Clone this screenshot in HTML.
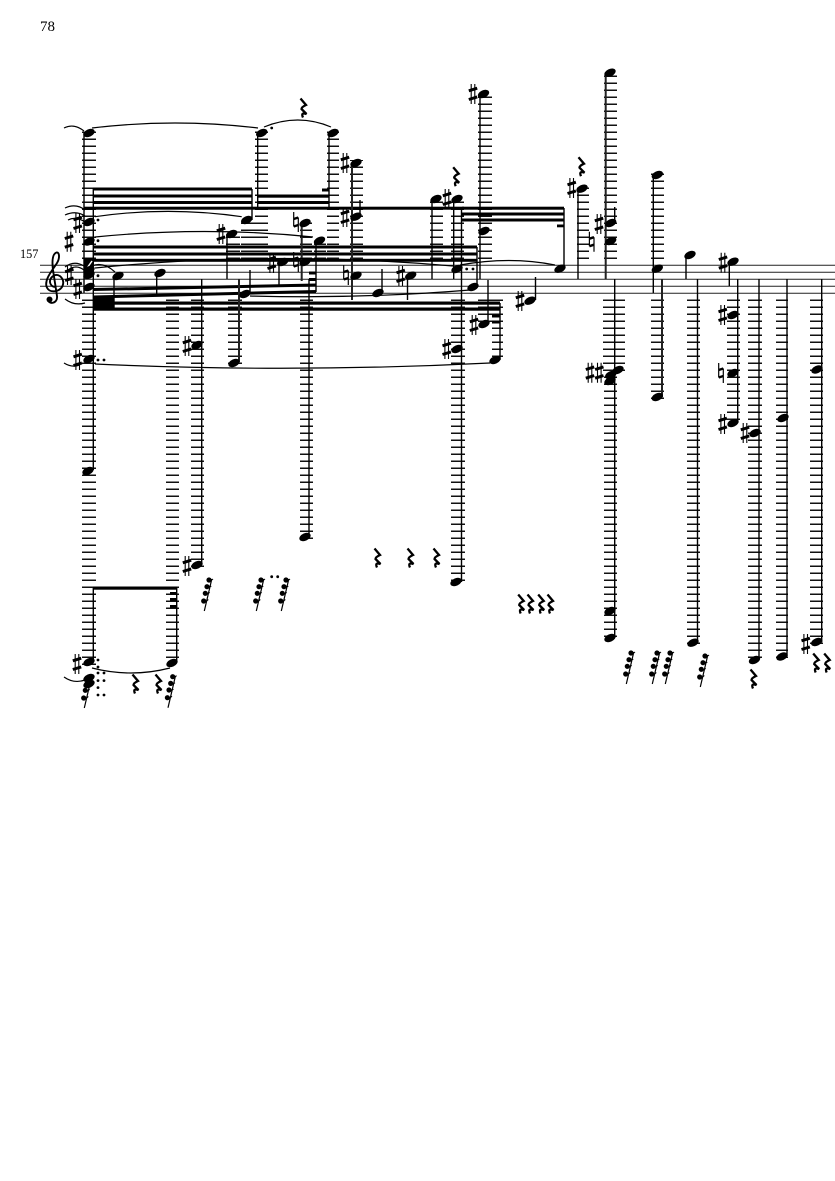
<!DOCTYPE html>
<html><head><meta charset="utf-8"><style>
html,body{margin:0;padding:0;background:#fff}
svg{display:block}
text{font-family:"Liberation Serif",serif;fill:#000}
</style></head><body>
<svg width="835" height="1181" viewBox="0 0 835 1181" xmlns="http://www.w3.org/2000/svg">
<defs>
<pattern id="L" patternUnits="userSpaceOnUse" x="0" y="0" width="1000" height="7"><rect x="0" y="5.5" width="1000" height="1.6" fill="#111"/></pattern>
<ellipse id="n" rx="6" ry="3.7" transform="rotate(-25)" fill="#000"/>
<g id="s" fill="none" stroke="#000"><path d="M-1.8 -10V10M1.8 -10V10" stroke-width="1.1"/><path d="M-4.2 -3.2L4.200 -5.8M-4.200 5.500L4.200 2.900" stroke-width="3"/></g>
<g id="h" fill="none" stroke="#000"><path d="M-2.3 -10V4.5M2.300 -4.500V10" stroke-width="1.2"/><path d="M-2.300 -3L2.300 -4.500M-2.300 4.500L2.300 3" stroke-width="2.400"/></g>
<path id="r" d="M-2.500 -9.500L3 -3Q-1.500 -1 -1.500 1L3.500 6Q-2.500 4 0 9.500" fill="none" stroke="#000" stroke-width="2.300"/>
<g id="f" stroke="#000" fill="#000"><path d="M3.800 -16L-3.700 16" stroke-width="1.200" fill="none"/><path d="M1 -15Q3 -14 5 -16M-1 -8.300Q1 -7 3.300 -9M-2.700 -1.700Q-1 -.5 1.800 -2.500M-4.300 6Q-2 7 .3 4.500" stroke-width="1" fill="none"/><circle cx="1" cy="-15" r="2.100"/><circle cx="-1" cy="-8.300" r="2.100"/><circle cx="-2.700" cy="-1.700" r="2.100"/><circle cx="-4.300" cy="6" r="2.100"/></g>
</defs>
<rect width="835" height="1181" fill="#fff"/>
<text x="40" y="31" font-size="15">78</text>
<text x="20" y="258" font-size="12.3">157</text>

<!-- ledger lines -->
<g fill="url(#L)">
<rect x="82" y="130" width="14" height="130"/><rect x="82" y="299" width="14" height="367"/>
<rect x="166" y="299" width="13" height="363"/>
<rect x="191" y="299" width="13" height="268"/>
<rect x="228" y="299" width="14" height="66"/>
<rect x="226" y="236" width="14" height="24"/>
<rect x="241" y="222" width="14" height="38"/>
<rect x="255" y="130" width="13" height="130"/>
<rect x="327" y="130" width="12" height="130"/>
<rect x="300" y="222" width="12" height="38"/>
<rect x="314" y="239" width="12" height="21"/>
<rect x="300" y="299" width="13" height="240"/>
<rect x="350" y="160" width="13" height="100"/>
<rect x="430" y="197" width="13" height="63"/>
<rect x="451" y="197" width="13" height="63"/>
<rect x="451" y="299" width="14" height="285"/>
<rect x="478" y="92" width="14" height="168"/>
<rect x="478" y="299" width="14" height="27"/>
<rect x="492" y="299" width="11" height="63"/>
<rect x="577" y="187" width="12" height="73"/>
<rect x="604" y="71" width="13" height="189"/>
<rect x="603" y="299" width="22" height="73"/>
<rect x="604" y="299" width="13" height="73"/>
<rect x="604" y="370" width="13" height="270"/>
<rect x="651" y="173" width="13" height="87"/>
<rect x="651" y="299" width="13" height="100"/>
<rect x="687" y="299" width="13" height="345"/>
<rect x="727" y="299" width="13" height="126"/>
<rect x="748" y="299" width="14" height="362"/>
<rect x="776" y="299" width="12" height="359"/>
<rect x="810" y="299" width="13" height="345"/>
</g>

<!-- staff -->
<g stroke="#222" stroke-width="1"><path d="M40 265.300H835M40 272.300H835M40 279.300H835M40 286.300H835M40 293.300H835"/></g>

<!-- clef -->
<path d="M55 287C49 286 48 279 54 275.500C60 273 65 280 62.500 286C60 292 49 294 46.500 286.500C44.500 279 52 271 57 263C60 258 59.500 252 56.500 252.500C52 254 52 262 53 270L57 296C58 304 48 305 48 299" fill="none" stroke="#000" stroke-width="1.900"/>
<circle cx="49.500" cy="299.500" r="3"/>

<!-- beams -->
<g fill="#000">
<rect x="93" y="187.500" width="159" height="3"/><rect x="93" y="194.500" width="159" height="3"/><rect x="93" y="201" width="159" height="3"/>
<rect x="84" y="206.700" width="380" height="3"/>
<rect x="257" y="194.500" width="72" height="3.200"/><rect x="257" y="201" width="72" height="3"/><rect x="322" y="188.500" width="7" height="3"/>
<rect x="462" y="206.700" width="102" height="3"/><rect x="462" y="212.500" width="102" height="3"/><rect x="462" y="218.500" width="102" height="3"/><rect x="557" y="224.500" width="7" height="2.800"/>
<rect x="93" y="245.500" width="384" height="3"/><rect x="93" y="252.500" width="384" height="3"/><rect x="93" y="258.800" width="384" height="3"/>
<polygon points="93,288 316,283.500 316,286.500 93,291"/><polygon points="93,295.500 316,290 316,293 93,298.500"/>
<rect x="93" y="301.500" width="407" height="3.200"/><rect x="93" y="307.500" width="407" height="3.200"/>
<polygon points="93,298 114,297 114,308 93,308"/>
<rect x="309" y="271.500" width="7" height="3"/><rect x="309" y="278" width="7" height="3"/>
<rect x="492" y="314.500" width="8" height="3"/><rect x="492" y="320.500" width="8" height="3"/>
<rect x="93" y="586.500" width="84" height="3.200"/>
<rect x="170" y="592" width="7" height="2.800"/><rect x="170" y="598" width="7" height="2.800"/><rect x="170" y="605" width="7" height="2.800"/>
<rect x="84" y="258" width="9" height="18"/>
</g>
<path d="M85 271L92 261" stroke="#fff" stroke-width="1.500"/>

<!-- stems -->
<g stroke="#000" stroke-width="1.400" fill="none">
<path d="M84 133V293M93.300 188V470M93.300 588V662M114 276V308M156.700 273V296M176.700 588V662M201.700 279V565"/>
<path d="M227 234V279M250 270V294M252 189V220M257.700 133V208M329 133V208M279 262V285M309 279V537M316 240V292"/>
<path d="M360 200V217M382 269V293M407.500 276V300M432 199V279M453.700 199V279M461.500 208V582M477 247V287M480 94V279M488 280V324M500 303V360"/>
<path d="M535.500 277V300M564 208V268M578 189V279M614.700 207V223M614.700 279V638M653.300 175V293M686 255V279M697.500 279V642M729.300 262V286M737.700 279V423M759 279V658M787 279V656M821.700 279V642"/>
</g>
<g stroke="#222" stroke-width="2" fill="none"><path d="M239 279V362M301.700 223V281M352 163V300M605.700 73V279M662 279V397"/></g>

<!-- ties -->
<g fill="none" stroke="#000" stroke-width="1.200">
<path d="M64 128Q74 123 84 131M92 128Q175 118 258 128M264 127Q298 113 331 127"/>
<path d="M65 208Q76 203 85 210M65 215Q76 210 85 216M68 220Q76 216 85 222M65 267Q74 260 84 266M68 270Q76 264 84 270M65 299Q74 306 85 303"/>
<path d="M95 216.700Q168 206 241.700 216.700M95 237Q205 226 313 237M95 268Q270 250 453 266M85 270Q100 258 115 272M460 265Q510 256 555 265"/>
<path d="M64 363Q72 368 80 365M95 364Q290 373 490 363M250 296Q360 299 470 290"/>
<path d="M92 668Q131 678 170 668M64 677Q74 684 85 680"/>
</g>

<!-- noteheads -->
<use href="#n" x="89" y="133"/><use href="#n" x="89" y="222"/><use href="#n" x="89" y="241.500"/><use href="#n" x="89" y="270"/><use href="#n" x="89" y="275"/><use href="#n" x="89" y="287"/><use href="#n" x="89" y="359"/><use href="#n" x="88" y="471"/><use href="#n" x="89" y="662"/>
<use href="#n" x="118" y="276"/><use href="#n" x="160" y="273"/><use href="#n" x="172" y="663"/><use href="#n" x="197" y="345"/><use href="#n" x="197" y="565"/>
<use href="#n" x="231.700" y="234"/><use href="#n" x="246.700" y="220"/><use href="#n" x="245" y="294"/><use href="#n" x="234" y="363"/>
<use href="#n" x="261.700" y="133"/><use href="#n" x="333" y="133"/><use href="#n" x="282.700" y="262"/><use href="#n" x="305" y="223"/><use href="#n" x="305" y="262"/><use href="#n" x="305" y="537"/><use href="#n" x="319.500" y="240.700"/>
<use href="#n" x="356" y="163"/><use href="#n" x="356" y="216.700"/><use href="#n" x="356" y="275.700"/><use href="#n" x="378" y="293"/><use href="#n" x="410.700" y="275.700"/>
<use href="#n" x="436" y="199"/><use href="#n" x="457" y="199"/><use href="#n" x="457" y="269"/><use href="#n" x="457" y="349"/><use href="#n" x="456" y="582"/><use href="#n" x="473" y="287"/>
<use href="#n" x="483.500" y="94"/><use href="#n" x="484" y="231"/><use href="#n" x="484" y="324"/><use href="#n" x="495" y="360"/>
<use href="#n" x="530" y="300.700"/><use href="#n" x="560" y="268.700"/><use href="#n" x="582" y="188.700"/>
<use href="#n" x="610" y="72.700"/><use href="#n" x="610.700" y="223"/><use href="#n" x="610.700" y="241"/><use href="#n" x="618" y="370"/><use href="#n" x="610.700" y="375"/><use href="#n" x="610" y="381"/><use href="#n" x="610" y="611"/><use href="#n" x="610" y="638"/>
<use href="#n" x="657.300" y="175"/><use href="#n" x="657.300" y="268.700"/><use href="#n" x="657.300" y="397"/><use href="#n" x="690" y="255"/><use href="#n" x="693" y="642.700"/>
<use href="#n" x="733" y="261.700"/><use href="#n" x="733" y="315"/><use href="#n" x="733" y="373"/><use href="#n" x="733" y="423"/>
<use href="#n" x="755" y="433"/><use href="#n" x="754.500" y="660"/><use href="#n" x="783" y="418"/><use href="#n" x="782" y="656.500"/><use href="#n" x="817" y="369.500"/><use href="#n" x="816.700" y="642"/>
<use href="#n" x="89" y="678"/><use href="#n" x="89" y="684"/>

<!-- sharps -->
<use href="#s" x="77.700" y="223"/><use href="#s" x="69" y="241.700"/><use href="#s" x="69.300" y="275"/><use href="#s" x="77.700" y="289"/><use href="#s" x="77.700" y="360"/><use href="#s" x="77" y="664"/>
<use href="#s" x="187" y="346"/><use href="#s" x="187" y="566"/><use href="#s" x="221" y="234"/><use href="#s" x="271.700" y="263"/>
<use href="#s" x="345" y="163"/><use href="#s" x="345" y="217"/><use href="#s" x="400.700" y="276"/><use href="#s" x="447" y="199"/><use href="#s" x="446.700" y="349"/>
<use href="#s" x="473" y="94"/><use href="#s" x="474" y="325"/><use href="#s" x="520" y="301"/><use href="#s" x="571.700" y="188"/><use href="#s" x="599" y="224"/><use href="#s" x="590" y="372.700"/><use href="#s" x="599.300" y="372.700"/>
<use href="#s" x="723" y="262.700"/><use href="#s" x="722.700" y="315"/><use href="#s" x="722.700" y="424"/><use href="#s" x="745" y="433"/><use href="#s" x="805.700" y="644"/>

<!-- naturals -->
<use href="#h" x="296" y="222"/><use href="#h" x="296" y="262"/><use href="#h" x="346" y="275"/><use href="#h" x="591.700" y="241.700"/><use href="#h" x="721" y="373"/>

<!-- rests -->
<use href="#r" x="303" y="108"/><use href="#r" x="455.700" y="176.700"/><use href="#r" x="581" y="166.700"/>
<use href="#r" x="377" y="558"/><use href="#r" x="410" y="558"/><use href="#r" x="436" y="558"/>
<use href="#r" x="520.700" y="604"/><use href="#r" x="530" y="604"/><use href="#r" x="540.700" y="604"/><use href="#r" x="550" y="604"/>
<use href="#r" x="135" y="684"/><use href="#r" x="158" y="684"/><use href="#r" x="753" y="679"/><use href="#r" x="815.700" y="663"/><use href="#r" x="826.700" y="663"/>

<!-- short-value rests -->
<use href="#f" x="208" y="595"/><use href="#f" x="260" y="595"/><use href="#f" x="285" y="595"/>
<use href="#f" x="88" y="692"/><use href="#f" x="171.700" y="691.700"/>
<use href="#f" x="630" y="668"/><use href="#f" x="656" y="668"/><use href="#f" x="669" y="668"/><use href="#f" x="704" y="671"/>

<!-- dots -->
<g fill="#000">
<circle cx="98" cy="220" r="1.400"/><circle cx="98" cy="240.700" r="1.400"/><circle cx="98" cy="275.700" r="1.400"/>
<circle cx="98" cy="360" r="1.400"/><circle cx="104" cy="360" r="1.400"/>
<circle cx="271.700" cy="128" r="1.400"/><circle cx="466.700" cy="269" r="1.400"/><circle cx="473" cy="269" r="1.400"/>
<circle cx="271.700" cy="576.700" r="1.400"/><circle cx="277.700" cy="576.700" r="1.400"/>
<circle cx="98" cy="660" r="1.400"/><circle cx="98" cy="667" r="1.400"/>
<circle cx="98" cy="673" r="1.400"/><circle cx="104" cy="673" r="1.400"/><circle cx="98" cy="680.600" r="1.400"/><circle cx="104" cy="680.600" r="1.400"/>
<circle cx="98" cy="687.600" r="1.400"/><circle cx="98" cy="695" r="1.400"/><circle cx="104" cy="695" r="1.400"/>
</g>
</svg>
</body></html>
